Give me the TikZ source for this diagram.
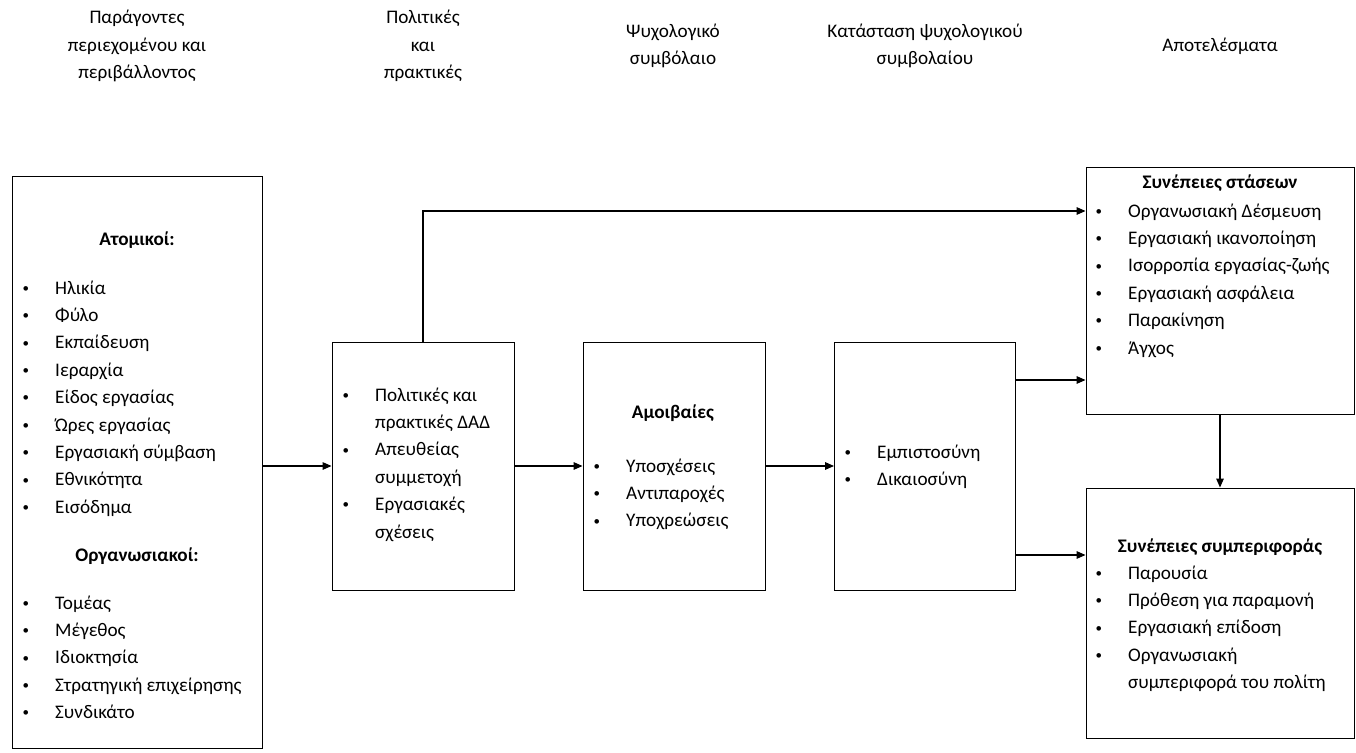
\documentclass[tikz,border=0pt]{standalone}
\usepackage{fontspec}
\setmainfont{Carlito}
\usetikzlibrary{arrows.meta}

\newcommand{\bul}{\strut\makebox[34pt][l]{\hspace*{1.5pt}\raisebox{1.8pt}{\fontsize{13}{13}\selectfont •}}}
\newcommand{\ind}{\strut\hspace*{34pt}}

\begin{document}
\begin{tikzpicture}[x=1pt, y=-1pt,
    every node/.style={font=\fontsize{19.2}{27.4}\selectfont},
    box/.style={draw, line width=0.9pt, inner sep=0pt},
    lst/.style={anchor=north west, align=left, inner sep=0pt},
    ttl/.style={align=center, inner sep=0pt},
    arr/.style={-{Triangle[length=9pt, width=7.5pt]}, line width=1.4pt}]
  \useasboundingbox (0,0) rectangle (1356,752);
  % column headings
  \node[ttl] (h1) at (137, 46) {Παράγοντες\\περιεχομένου και\\περιβάλλοντος};
  \node[ttl] (h2) at (423, 46) {Πολιτικές\\και\\πρακτικές};
  \node[ttl] (h3) at (673, 46) {Ψυχολογικό\\συμβόλαιο};
  \node[ttl] (h4) at (925, 46) {Κατάσταση ψυχολογικού\\συμβολαίου};
  \node[ttl] (h5) at (1220, 46) {Αποτελέσματα};
  % boxes
  \node[box, minimum width=250pt, minimum height=572pt] (L) at (137, 462) {};
  \node[box, minimum width=182pt, minimum height=248pt] (P) at (423, 466) {};
  \node[box, minimum width=182pt, minimum height=248pt] (A) at (674, 466) {};
  \node[box, minimum width=181pt, minimum height=248pt] (K) at (925, 466) {};
  \node[box, minimum width=268pt, minimum height=247pt] (S1) at (1220, 290.5) {};
  \node[box, minimum width=268pt, minimum height=250pt] (S2) at (1220, 613) {};
  % box texts
  \node[ttl] (ltA) at (137, 240) {\textbf{Ατομικοί:}};
  \node[lst] (llA) at (21, 274.8) {\bul Ηλικία\\\bul Φύλο\\\bul Εκπαίδευση\\
    \bul Ιεραρχία\\\bul Είδος εργασίας\\\bul Ώρες εργασίας\\
    \bul Εργασιακή σύμβαση\\\bul Εθνικότητα\\\bul Εισόδημα};
  \node[ttl] (ltB) at (137, 556) {\textbf{Οργανωσιακοί:}};
  \node[lst] (llB) at (21, 589.8) {\bul Τομέας\\\bul Μέγεθος\\\bul Ιδιοκτησία\\
    \bul Στρατηγική επιχείρησης\\\bul Συνδικάτο};
  \node[lst] (pl) at (341, 381.8) {\bul Πολιτικές και\\\ind πρακτικές ΔΑΔ\\
    \bul Απευθείας\\\ind συμμετοχή\\\bul Εργασιακές\\\ind σχέσεις};
  \node[ttl] (at) at (673, 413) {\textbf{Αμοιβαίες}};
  \node[lst] (al) at (592, 452.8) {\bul Υποσχέσεις\\\bul Αντιπαροχές\\\bul Υποχρεώσεις};
  \node[lst] (kl) at (843, 438.8) {\bul Εμπιστοσύνη\\\bul Δικαιοσύνη};
  \node[ttl] (s1t) at (1220, 183) {\textbf{Συνέπειες στάσεων}};
  \node[lst] (s1l) at (1094, 197.8) {\bul Οργανωσιακή Δέσμευση\\
    \bul Εργασιακή ικανοποίηση\\\bul Ισορροπία εργασίας-ζωής\\
    \bul Εργασιακή ασφάλεια\\\bul Παρακίνηση\\\bul Άγχος};
  \node[ttl] (s2t) at (1220, 547) {\textbf{Συνέπειες συμπεριφοράς}};
  \node[lst] (s2l) at (1094, 559.8) {\bul Παρουσία\\\bul Πρόθεση για παραμονή\\
    \bul Εργασιακή επίδοση\\\bul Οργανωσιακή\\\ind συμπεριφορά του πολίτη};
  % connectors
  \draw[arr] (L.east |- P.west) -- (P.west);
  \draw[arr] (P.east) -- (A.west);
  \draw[arr] (A.east) -- (K.west);
  \draw[arr] (P.north) |- (S1.west |- 0,211);
  \draw[arr] (K.east |- 0,380) -- (S1.west |- 0,380);
  \draw[arr] (K.east |- 0,555) -- (S2.west |- 0,555);
  \draw[arr] (S1.south) -- (S2.north);
\end{tikzpicture}
\end{document}
